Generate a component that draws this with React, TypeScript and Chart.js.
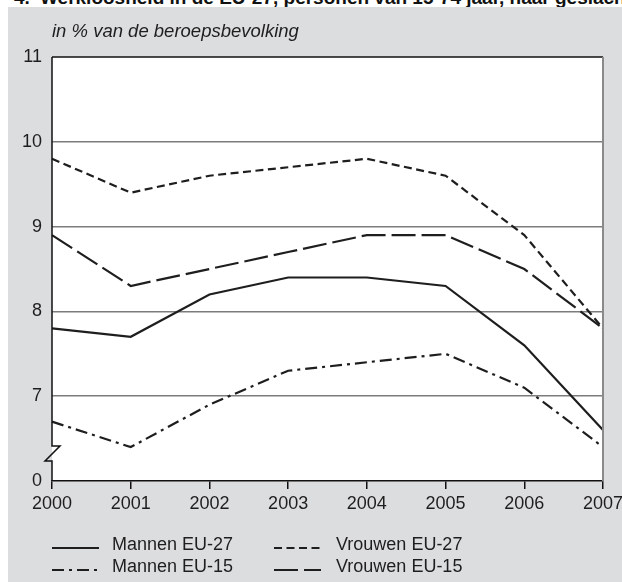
import { useEffect, useRef } from 'react';
import { Chart, registerables } from 'chart.js';

Chart.register(...registerables);

const years = ['2000', '2001', '2002', '2003', '2004', '2005', '2006', '2007'];
const mannenEU27 = [7.8, 7.7, 8.2, 8.4, 8.4, 8.3, 7.6, 6.6];
const vrouwenEU27 = [9.8, 9.4, 9.6, 9.7, 9.8, 9.6, 8.9, 7.8];
const mannenEU15 = [6.7, 6.4, 6.9, 7.3, 7.4, 7.5, 7.1, 6.4];
const vrouwenEU15 = [8.9, 8.3, 8.5, 8.7, 8.9, 8.9, 8.5, 7.8];
const seriesNames = ['Mannen EU-27', 'Vrouwen EU-27', 'Mannen EU-15', 'Vrouwen EU-15'];
const yTickValues = [6, 7, 8, 9, 10, 11];
const yTickLabels = ['0', '7', '8', '9', '10', '11'];

const FONT = '"Liberation Sans", Arial, Helvetica, sans-serif';
const INK = '#1e1e1e';
const PANEL = '#dcdddf';

export default function App() {
  const ref = useRef<HTMLCanvasElement>(null);

  useEffect(() => {
    const canvas = ref.current;
    if (!canvas) return;
    const dashes: number[][] = [[], [8, 4.5], [12, 5, 3, 5], [24, 6]];
    const values = [mannenEU27, vrouwenEU27, mannenEU15, vrouwenEU15];

    const plotBg = {
      id: 'plotBg',
      beforeDraw(chart: any) {
        const { ctx, chartArea: a } = chart;
        ctx.save();
        ctx.fillStyle = '#ffffff';
        ctx.fillRect(a.left, a.top, a.right - a.left, a.bottom - a.top);
        ctx.restore();
      },
    };

    const frame = {
      id: 'frame',
      afterDraw(chart: any) {
        const { ctx, chartArea: a } = chart;
        ctx.save();
        // top border
        ctx.strokeStyle = '#111';
        ctx.lineWidth = 1.5;
        ctx.beginPath();
        ctx.moveTo(a.left, a.top);
        ctx.lineTo(a.right, a.top);
        ctx.stroke();
        // right border
        ctx.strokeStyle = '#8a8a8a';
        ctx.lineWidth = 2;
        ctx.beginPath();
        ctx.moveTo(a.right, a.top);
        ctx.lineTo(a.right, a.bottom);
        ctx.stroke();
        // left axis with break
        const x = a.left;
        const b1 = a.bottom - 35;
        const b2 = a.bottom - 20;
        ctx.strokeStyle = '#111';
        ctx.lineWidth = 1.5;
        ctx.lineJoin = 'miter';
        ctx.beginPath();
        ctx.moveTo(x, a.top);
        ctx.lineTo(x, b1);
        ctx.lineTo(x + 8, b1);
        ctx.lineTo(x - 7, b2);
        ctx.lineTo(x, b2);
        ctx.lineTo(x, a.bottom);
        ctx.stroke();

        // legend
        const colX = [52, 274];
        const textX = [112, 336];
        const rowY = [545, 567];
        ctx.font = `18px ${FONT}`;
        ctx.textBaseline = 'middle';
        ctx.textAlign = 'left';
        seriesNames.forEach((name, i) => {
          const c = i % 2;
          const r = Math.floor(i / 2);
          ctx.strokeStyle = INK;
          ctx.lineWidth = 2;
          ctx.setLineDash(dashes[i]);
          ctx.beginPath();
          ctx.moveTo(colX[c], rowY[r] + 3);
          ctx.lineTo(colX[c] + 47, rowY[r] + 3);
          ctx.stroke();
          ctx.setLineDash([]);
          ctx.fillStyle = INK;
          ctx.fillText(name, textX[c], rowY[r]);
        });
        ctx.restore();
      },
    };

    const chart = new Chart(canvas, {
      type: 'line',
      data: {
        labels: years,
        datasets: values.map((v, i) => ({
          label: seriesNames[i],
          data: v,
          borderColor: INK,
          backgroundColor: INK,
          borderWidth: 2.2,
          borderDash: dashes[i],
          pointRadius: 0,
          tension: 0,
          fill: false,
        })),
      },
      options: {
        animation: false,
        responsive: false,
        devicePixelRatio: 1,
        layout: { padding: { left: 0, right: 19, top: 57, bottom: 68 } },
        plugins: {
          legend: { display: false },
          tooltip: { enabled: false },
        },
        scales: {
          x: {
            type: 'category',
            offset: false,
            grid: {
              display: true,
              drawOnChartArea: false,
              drawTicks: true,
              tickLength: 8,
              color: '#111',
              lineWidth: 1.5,
            },
            border: { display: true, color: '#111', width: 1.5 },
            ticks: {
              autoSkip: false,
              maxRotation: 0,
              padding: 4,
              color: INK,
              font: { family: FONT, size: 18 },
            },
            afterFit(scale: any) {
              scale.height = 33;
              scale.paddingLeft = 0;
              scale.paddingRight = 0;
            },
          },
          y: {
            type: 'linear',
            min: 6,
            max: 11,
            afterBuildTicks(scale: any) {
              scale.ticks = yTickValues.map((v) => ({ value: v }));
            },
            grid: {
              drawTicks: false,
              color: (c: any) => {
                const v = c.tick ? c.tick.value : 0;
                return v > 6 && v < 11 ? '#7c7c7c' : 'rgba(0,0,0,0)';
              },
              lineWidth: 1.5,
            },
            border: { display: false },
            ticks: {
              padding: 10,
              color: INK,
              font: { family: FONT, size: 18 },
              callback: (v: any) => {
                const idx = yTickValues.indexOf(Number(v));
                return idx >= 0 ? yTickLabels[idx] : '';
              },
            },
            afterFit(scale: any) {
              scale.width = 52;
              scale.paddingTop = 0;
              scale.paddingBottom = 0;
            },
          },
        },
      },
      plugins: [plotBg, frame],
    });

    return () => chart.destroy();
  }, []);

  return (
    <div
      style={{
        position: 'absolute',
        left: 0,
        top: 0,
        width: 622,
        height: 582,
        overflow: 'hidden',
        background: '#ffffff',
        fontFamily: FONT,
      }}
    >
      <div
        style={{
          position: 'absolute',
          top: -12,
          left: 14,
          whiteSpace: 'nowrap',
          fontWeight: 'bold',
          fontSize: 19,
          lineHeight: '19px',
          color: '#111',
        }}
      >
        4.<span style={{ position: 'absolute', left: 26 }}>Werkloosheid in de EU-27, personen van 15-74 jaar, naar geslacht</span>
      </div>
      <div
        style={{
          position: 'absolute',
          left: 8,
          top: 7,
          right: 0,
          bottom: 0,
          background: PANEL,
        }}
      />
      <canvas
        ref={ref}
        width={622}
        height={582}
        style={{ position: 'absolute', left: 0, top: 0, width: 622, height: 582 }}
      />
      <div
        style={{
          position: 'absolute',
          left: 52,
          top: 20,
          fontStyle: 'italic',
          fontSize: 18.5,
          lineHeight: '22px',
          color: INK,
          whiteSpace: 'nowrap',
        }}
      >
        in % van de beroepsbevolking
      </div>
    </div>
  );
}
